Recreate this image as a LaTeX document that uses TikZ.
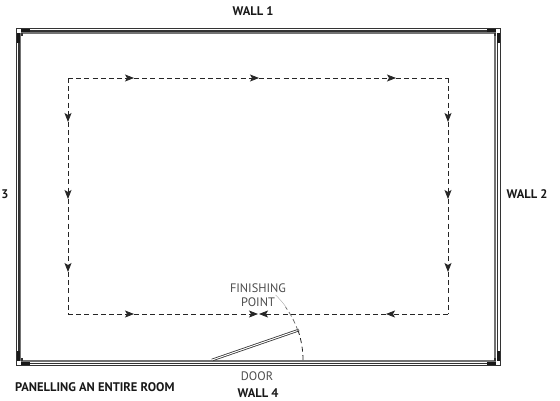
\documentclass[tikz,border=0pt]{standalone}
\usepackage{fontspec}
\setmainfont{PT Sans}
\usetikzlibrary{arrows.meta}
\tikzset{
  x=1pt,y=-1pt,
  lbl/.style={inner sep=0pt,font=\fontsize{12.3}{14.5}\selectfont,text=black!70,align=center},
  blbl/.style={inner sep=0pt,font=\fontsize{12.5}{14}\bfseries\selectfont,text=black!90},
  route/.style={dash pattern=on 5pt off 3.2pt,line width=0.8pt,black!85},
  go/.style={route,-{Stealth[length=9pt,width=7pt,inset=2pt]}},
  wallo/.style={line width=1.4pt,black!80},
  wallm/.style={line width=1.2pt,black!80},
  walli/.style={line width=1.1pt,black!55}
}
\begin{document}
\begin{tikzpicture}
\useasboundingbox (0,0) rectangle (560,400);
% walls
\draw[wallo] (16.3,28.3) rectangle (500.3,365.7);
\draw[wallm] (19,31) rectangle (497.7,363.7);
\draw[walli] (20.8,33) rectangle (495,361);
% corners
\foreach \cx/\cy/\dx/\dy in {16/28/1/1,501/28/-1/1,16/366/1/-1,501/366/-1/-1}{
  \fill[black!90] (\cx+\dx*1,\cy+\dy*5) rectangle ++(\dx*3,\dy*10);
  \fill[black!90] (\cx+\dx*5,\cy+\dy*1) rectangle ++(\dx*9,\dy*3);
  \fill[white] (\cx+\dx*1.5,\cy+\dy*1.5) rectangle ++(\dx*3.5,\dy*3.5);
  \fill[black!80] (\cx+\dx*5,\cy+\dy*5) rectangle ++(\dx*2,\dy*3);
}
% route
\coordinate (c1) at (68,78);
\coordinate (c2) at (448,78);
\coordinate (c3) at (448,314);
\coordinate (c4) at (68,314);
\coordinate (t1) at (134,78);
\coordinate (t2) at (259,78);
\coordinate (t3) at (396,78);
\coordinate (r1) at (448,122);
\coordinate (r2) at (448,199);
\coordinate (r3) at (448,272);
\coordinate (b1) at (386,314);
\coordinate (bm) at (258,314);
\coordinate (bn) at (259,314);
\coordinate (b2) at (134,314);
\coordinate (l1) at (68,122);
\coordinate (l2) at (68,199);
\coordinate (l3) at (68,272);
\draw[go] (c1) -- (t1);
\draw[go] (t1) -- (t2);
\draw[go] (t2) -- (t3);
\draw[route] (t3) -- (c2);
\draw[go] (c2) -- (r1);
\draw[go] (r1) -- (r2);
\draw[go] (r2) -- (r3);
\draw[route] (r3) -- (c3);
\draw[go] (c3) -- (b1);
\draw[go] (b1) -- (bn);
\draw[go] (c1) -- (l1);
\draw[go] (l1) -- (l2);
\draw[go] (l2) -- (l3);
\draw[route] (l3) -- (c4);
\draw[go] (c4) -- (b2);
\draw[go] (b2) -- (bm);
% door
\coordinate (hinge) at (212,360);
\coordinate (leaf) at (299,330);
\draw[line width=2.6pt,black!80] (hinge) -- (leaf);
\draw[line width=1pt,white] (hinge) -- (leaf);
\draw[black!85,line width=0.8pt,dash pattern=on 5pt off 3.5pt] (303,360) arc[start angle=0,end angle=-19,radius=91];
\draw[black!60,line width=0.7pt,dash pattern=on 5pt off 3pt] (298,331) arc[start angle=-19,end angle=-36,radius=91];
\draw[black!35,line width=0.4pt] (286,307) arc[start angle=-36,end angle=-46,radius=91];
% labels
\node[blbl] (w1) at (253,11) {WALL 1};
\node[blbl] (w2) at (527,194) {WALL 2};
\node[blbl] (w3) at (5,194) {3};
\node[blbl] (w4) at (258,393) {WALL 4};
\node[blbl,anchor=west] (title) at (15,387) {PANELLING AN ENTIRE ROOM};
\node[lbl] (door) at (257,376) {DOOR};
\node[lbl] (fin) at (258,295) {FINISHING\\POINT};
\end{tikzpicture}
\end{document}
